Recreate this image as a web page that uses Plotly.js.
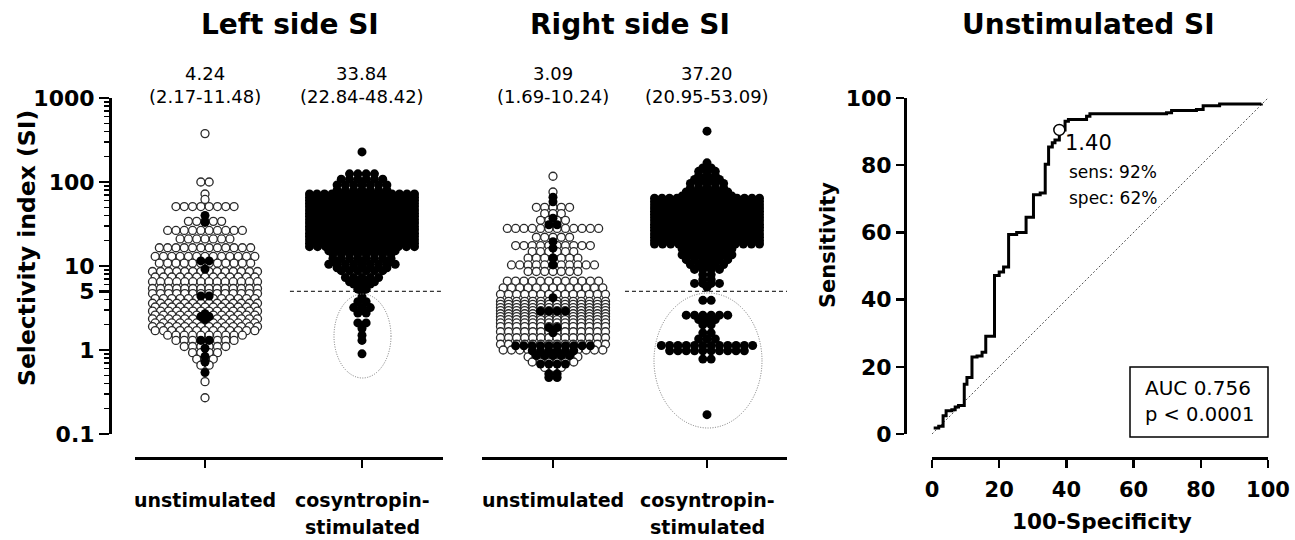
<!DOCTYPE html>
<html><head><meta charset="utf-8">
<script src="https://cdn.plot.ly/plotly-3.0.1.min.js"></script>
<style>html,body{margin:0;padding:0;background:#fff}#chart{width:1295px;height:540px}</style>
</head><body><div id="chart"></div>
<script>
// ================= DATA =================
const categories = ['unstimulated', 'cosyntropin-stimulated'];
const leftMedianText  = ['4.24', '33.84'];
const leftIqrText     = ['(2.17-11.48)', '(22.84-48.42)'];
const rightMedianText = ['3.09', '37.20'];
const rightIqrText    = ['(1.69-10.24)', '(20.95-53.09)'];
const yTickVals = [0.1, 1, 5, 10, 100, 1000];
const yTickText = ['0.1', '1', '5', '10', '100', '1000'];
const cutoffSI = 5;

// Left side SI, unstimulated (open circles): SI level of each swarm row and number of patients in it
const leftUnstimOpenLevels = [377,100,72,62,51,34,26.5,21,16.5,13,10.8,8.6,7.4,6.5,5.4,4.7,4.1,3.6,3.25,2.9,2.6,2.35,2.1,1.9,1.7,1.5,1.3,1.1,0.93,0.78,0.66,0.42,0.27];
const leftUnstimOpenCounts = [1,2,1,1,8,5,10,7,12,13,12,14,13,14,14,14,13,14,13,14,13,14,13,14,13,10,8,6,4,3,2,1,1];
// Left side SI, unstimulated (filled = stimulated SI < 5)
const leftUnstimBlackLevels = [40,33,11.5,9.2,4.4,2.7,2.5,2.3,1.3,1.05,0.84,0.72,0.54];
const leftUnstimBlackCounts = [1,1,2,1,2,1,2,1,2,1,1,1,1];
// Left side SI, cosyntropin-stimulated
const leftStimLevels = [228,125,108,92,80,72,66,60.5,55.5,51,46.5,42.5,39,35.5,32.5,29.5,27,24.5,22.5,20.5,18.7,17,15.2,14,12.3,10.5,9.5,8.8,7.3,6.5,6.1,5.3,5.0,4.3,3.75,3.2,2.75,2.1,1.8,1.5,1.3,0.9];
const leftStimCounts = [1,4,6,7,7,15,15,15,15,15,15,15,15,15,15,15,15,15,15,15,15,14,9,8,8,9,7,6,5,4,3,2,1,1,2,3,2,2,1,1,1,1];

// Right side SI, unstimulated (open circles)
const rightUnstimOpenLevels = [117,76,50,42,35,28,22,17.5,14.8,12.4,10.3,8.6,6.6,5.5,4.6,3.8,3.5,3.2,2.95,2.7,2.5,2.3,2.1,1.9,1.65,1.4,1.17,1.0,0.83,0.72,0.62];
const rightUnstimOpenCounts = [1,1,5,3,4,12,5,10,6,7,11,7,12,13,14,14,14,14,14,14,14,14,14,14,14,14,14,13,7,6,3];
// Right side SI, unstimulated (filled)
const rightUnstimBlackLevels = [66,58,37,31,19.5,16.3,12.4,10.3,4.2,2.9,1.85,1.6,1.12,0.98,0.86,0.68,0.52,0.47];
const rightUnstimBlackCounts = [1,1,1,2,1,1,1,1,1,4,2,1,10,6,5,4,2,2];
// Right side SI, cosyntropin-stimulated
const rightStimLevels = [403,169,147,134,120,107,96,85,76,68,64,58.5,53.5,49,45,41,37.5,34.5,31.5,29,26.5,24,22,20,18.3,16,14.5,13.6,11.9,10.4,9.1,7.9,6.9,6.2,5.6,3.9,2.6,2.3,2.0,1.6,1.35,1.13,0.98,0.78,0.17];
const rightStimCounts = [1,1,2,3,3,4,5,5,6,7,15,15,15,15,15,15,15,15,15,15,15,15,15,15,14,7,6,7,6,5,4,2,2,4,1,2,6,3,2,2,3,12,10,2,1];

// ROC of unstimulated SI
const rocFpr  = [0.5,2,3.3,4.2,5.9,6.9,7.9,9.6,10.4,11.9,13.4,14.9,16.0,18.6,20,21.3,22.8,25.2,28,30.2,32.2,33.7,34.7,35.8,36.6,37.9,39.6,40.6,46,47,69.8,71.3,78.7,80.7,85.6,98];
const rocSens = [1.8,2.3,5.4,6.9,7.2,8.0,8.5,14.8,16.8,22.9,23.2,24.3,29.1,47.2,48.2,49.7,59.4,60.0,64.5,71.2,71.7,80.3,85.4,86.7,87.5,90.5,93.1,93.6,94.6,95.3,95.6,96.3,96.6,97.7,98.2,98.4];
const cutoffPoint = {fpr: 37.9, sens: 90.5, label: '1.40', sens_txt: 'sens: 92%', spec_txt: 'spec: 62%'};
const rocTickVals = [0,20,40,60,80,100];
const aucText = ['AUC 0.756', 'p < 0.0001'];

// ================= LAYOUT HELPERS =================
const W = 1295, H = 540;
const px = x => x / W;
const py = y => 1 - y / H;
const LEFT_RANGE = [-0.4459, 1.5159], LEFT_PPU = 157;   // pixels per category unit
const RIGHT_RANGE = [-0.461, 1.5195], RIGHT_PPU = 154;
const D = 8.3, MAXW = 105;

function swarm(levels, counts, center, ppu) {
  const xs = [], ys = [];
  levels.forEach((v, k) => {
    const n = counts[k];
    const s = n > 1 ? Math.min(D, MAXW / (n - 1)) : 0;
    for (let i = 0; i < n; i++) { xs.push(center + (i - (n - 1) / 2) * s / ppu); ys.push(v); }
  });
  return {xs, ys};
}

const openMarker = {size: 8, color: '#fff', line: {color: '#2a2a2a', width: 1.3}};
const blackMarker = {size: 9, color: '#000', line: {width: 0}};

function pts(sw, xa, ya, marker) {
  return {type: 'scatter', mode: 'markers', x: sw.xs, y: sw.ys, xaxis: xa, yaxis: ya, marker: marker, hoverinfo: 'skip', cliponaxis: false};
}

const traces = [];
traces.push({type:'scatter', mode:'lines', x:[0.541, LEFT_RANGE[1]], y:[cutoffSI, cutoffSI], xaxis:'x', yaxis:'y', line:{color:'#000', width:1, dash:'4px,3px'}});
traces.push(pts(swarm(leftUnstimOpenLevels, leftUnstimOpenCounts, 0, LEFT_PPU), 'x', 'y', openMarker));
traces.push(pts(swarm(leftUnstimBlackLevels, leftUnstimBlackCounts, 0, LEFT_PPU), 'x', 'y', blackMarker));
traces.push(pts(swarm(leftStimLevels, leftStimCounts, 1, LEFT_PPU), 'x', 'y', blackMarker));

traces.push({type:'scatter', mode:'lines', x:[0.4675, RIGHT_RANGE[1]], y:[cutoffSI, cutoffSI], xaxis:'x2', yaxis:'y2', line:{color:'#000', width:1, dash:'4px,3px'}});
traces.push(pts(swarm(rightUnstimOpenLevels, rightUnstimOpenCounts, 0, RIGHT_PPU), 'x2', 'y2', openMarker));
traces.push(pts(swarm(rightUnstimBlackLevels, rightUnstimBlackCounts, 0, RIGHT_PPU), 'x2', 'y2', blackMarker));
traces.push(pts(swarm(rightStimLevels, rightStimCounts, 1, RIGHT_PPU), 'x2', 'y2', blackMarker));

traces.push({type:'scatter', mode:'lines', x:[0,100], y:[0,100], xaxis:'x3', yaxis:'y3', line:{color:'#555', width:1, dash:'2px,2px'}});
traces.push({type:'scatter', mode:'lines', x:rocFpr, y:rocSens, xaxis:'x3', yaxis:'y3', line:{color:'#000', width:3, shape:'hv'}});
traces.push({type:'scatter', mode:'markers', x:[cutoffPoint.fpr], y:[cutoffPoint.sens], xaxis:'x3', yaxis:'y3', marker:{size:11, color:'#fff', line:{color:'#000', width:1.5}}, cliponaxis:false});

const minorVals = [];
[0.1, 1, 10, 100].forEach(d => { for (let m = 2; m <= 9; m++) { if (!(d === 1 && m === 5)) minorVals.push(d * m); } });

const BOLD = 'DejaVu Sans';
const yDomain = [py(434), py(98)];
const xAxisPos = py(458);
const baseX = {showline:true, linewidth:2.5, linecolor:'#000', ticks:'outside', ticklen:8, tickwidth:2.5, tickcolor:'#000',
  showgrid:false, zeroline:false, fixedrange:true, anchor:'free', position:xAxisPos};

const layout = {
  width: W, height: H, margin:{l:0, r:0, t:0, b:0, autoexpand:false},
  paper_bgcolor:'#fff', plot_bgcolor:'rgba(0,0,0,0)', showlegend:false, hovermode:false,
  font:{family:'DejaVu Sans', color:'#000'},
  xaxis: Object.assign({}, baseX, {domain:[px(135), px(443)], range:LEFT_RANGE, tickvals:[0,1], showticklabels:false}),
  yaxis: {domain:yDomain, type:'log', range:[-1,3], anchor:'free', position:px(110), showline:true, linewidth:2.5, linecolor:'#000',
    ticks:'outside', ticklen:10, tickwidth:2.5, tickcolor:'#000', tickvals:yTickVals, ticktext:yTickText,
    tickfont:{family:BOLD, weight:'bold', size:22, color:'#000'},
    minor:{tickmode:'array', tickvals:minorVals, ticks:'outside', ticklen:5, tickwidth:1.5, tickcolor:'#000', showgrid:false},
    showgrid:false, zeroline:false, fixedrange:true},
  xaxis2: Object.assign({}, baseX, {domain:[px(482), px(787)], range:RIGHT_RANGE, tickvals:[0,1], showticklabels:false}),
  yaxis2: {domain:yDomain, type:'log', range:[-1,3], anchor:'x2', visible:false, fixedrange:true},
  xaxis3: Object.assign({}, baseX, {domain:[px(932), px(1268)], range:[0,100], tickvals:rocTickVals,
    tickfont:{family:BOLD, weight:'bold', size:21, color:'#000'}, ticklabelstandoff:4}),
  yaxis3: {domain:yDomain, range:[0,100], anchor:'free', position:px(905), showline:true, linewidth:2.5, linecolor:'#000',
    ticks:'outside', ticklen:8, tickwidth:2.5, tickcolor:'#000', tickvals:rocTickVals,
    tickfont:{family:BOLD, weight:'bold', size:22, color:'#000'}, showgrid:false, zeroline:false, fixedrange:true},
  shapes: [
    {type:'circle', xref:'paper', yref:'paper', x0:px(334), x1:px(391), y0:py(378), y1:py(294), line:{color:'#777', width:1, dash:'1px,1.5px'}},
    {type:'circle', xref:'paper', yref:'paper', x0:px(654), x1:px(762), y0:py(428), y1:py(293), line:{color:'#777', width:1, dash:'1px,1.5px'}},
    {type:'rect', xref:'paper', yref:'paper', x0:px(1130), x1:px(1268), y0:py(437), y1:py(367), line:{color:'#000', width:1.5}}
  ],
  annotations: []
};

function ann(text, x, y, size, bold, opts) {
  layout.annotations.push(Object.assign({text:text, xref:'paper', yref:'paper', x:px(x), y:py(y), showarrow:false,
    xanchor:'center', yanchor:'middle', font:{family:'DejaVu Sans', size:size, color:'#000', weight: bold ? 'bold' : 'normal'}}, opts || {}));
}
ann('Left side SI', 290, 25, 28, true);
ann('Right side SI', 630, 25, 28, true);
ann('Unstimulated SI', 1088, 25, 28, true);
ann(leftMedianText[0], 205, 73, 18, false); ann(leftIqrText[0], 205, 97, 18, false);
ann(leftMedianText[1], 362, 73, 18, false); ann(leftIqrText[1], 362, 97, 18, false);
ann(rightMedianText[0], 553, 73, 18, false); ann(rightIqrText[0], 553, 97, 18, false);
ann(rightMedianText[1], 707, 73, 18, false); ann(rightIqrText[1], 707, 97, 18, false);
ann('unstimulated', 205, 500, 19, true);
ann('cosyntropin-', 362, 500, 19, true); ann('stimulated', 362, 527, 19, true);
ann('unstimulated', 553, 500, 19, true);
ann('cosyntropin-', 707, 500, 19, true); ann('stimulated', 707, 527, 19, true);
ann('Selectivity index (SI)', 27, 248, 23.5, true, {textangle:-90});
ann('Sensitivity', 828, 245, 21, true, {textangle:-90});
ann('100-Specificity', 1102, 521, 21.5, true);
ann(cutoffPoint.label, 1063, 143, 21, false, {xanchor:'left'});
ann(cutoffPoint.sens_txt, 1067, 172, 17, false, {xanchor:'left'});
ann(cutoffPoint.spec_txt, 1067, 198, 17, false, {xanchor:'left'});
ann(aucText[0], 1143, 388, 20, false, {xanchor:'left'});
ann(aucText[1], 1143, 414, 19.5, false, {xanchor:'left'});

Plotly.newPlot('chart', traces, layout, {staticPlot:true, displayModeBar:false});
</script>
</body></html>
